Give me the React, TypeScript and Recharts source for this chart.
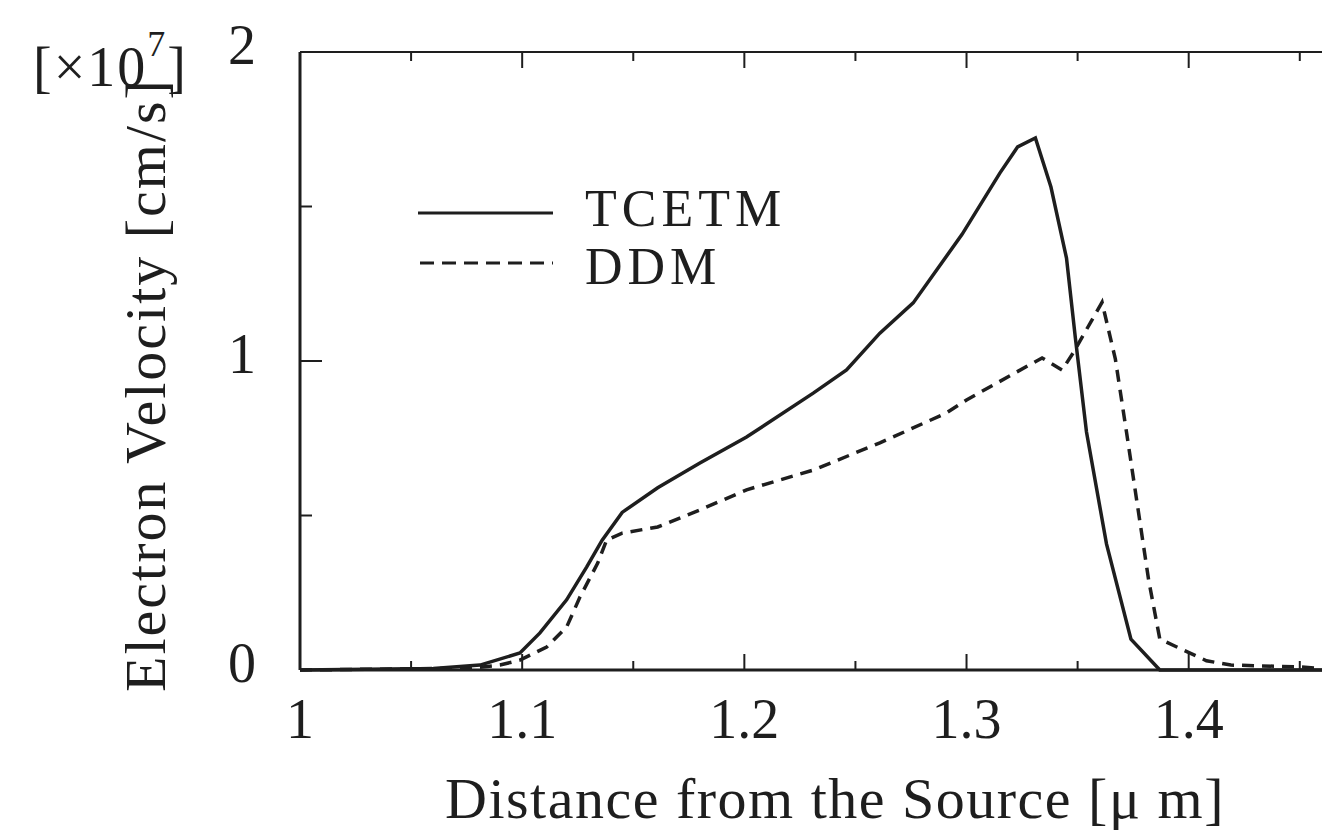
import { LineChart, Line, XAxis, YAxis } from 'recharts'

const tcetmX = [1.0, 1.06, 1.081, 1.099, 1.108, 1.12, 1.129, 1.136, 1.145, 1.161, 1.18, 1.201, 1.231, 1.246, 1.261, 1.276, 1.298, 1.315, 1.323, 1.331, 1.338, 1.345, 1.349, 1.354, 1.363, 1.374, 1.387, 1.46]
const tcetmV = [0, 0.005, 0.016, 0.055, 0.12, 0.227, 0.333, 0.42, 0.51, 0.59, 0.67, 0.754, 0.896, 0.971, 1.09, 1.188, 1.41, 1.608, 1.693, 1.722, 1.563, 1.333, 1.074, 0.77, 0.408, 0.1, 0, 0]

const ddmX = [1.0, 1.077, 1.09, 1.099, 1.111, 1.12, 1.126, 1.134, 1.138, 1.145, 1.161, 1.18, 1.201, 1.231, 1.261, 1.291, 1.3, 1.33, 1.334, 1.343, 1.348, 1.361, 1.367, 1.372, 1.377, 1.382, 1.387, 1.408, 1.419, 1.45, 1.46]
const ddmV = [0, 0.006, 0.016, 0.032, 0.074, 0.139, 0.236, 0.346, 0.42, 0.443, 0.463, 0.518, 0.583, 0.647, 0.735, 0.832, 0.874, 0.994, 1.01, 0.971, 1.026, 1.19, 1.006, 0.77, 0.53, 0.29, 0.1, 0.03, 0.016, 0.01, 0.005]

const xTicks = [1, 1.05, 1.1, 1.15, 1.2, 1.25, 1.3, 1.35, 1.4, 1.45]
const xLabels = ['1', '1.1', '1.2', '1.3', '1.4']
const yTicks = [0, 0.5, 1, 1.5, 2]
const yLabels = ['0', '1', '2']

const tcetm = tcetmX.map((x, i) => ({ x, v: tcetmV[i] }))
const ddm = ddmX.map((x, i) => ({ x, v: ddmV[i] }))

const ink = '#1e1e1e'
const serif = '"Liberation Serif", "DejaVu Serif", serif'

const fmt = (v: number) => (Math.abs(v - 1) < 1e-9 ? '1' : v.toFixed(1))
const isMajor = (v: number) => Math.abs(Math.round(v * 10) - v * 10) < 1e-6

function BottomTick(props: any) {
  const { x, y, payload } = props
  const major = isMajor(payload.value)
  const label = fmt(payload.value)
  return (
    <g>
      <line x1={x} y1={y} x2={x} y2={y - (major ? 16 : 9)} stroke={ink} strokeWidth={2} />
      {major && xLabels.includes(label) && (
        <text x={x} y={y + 68} textAnchor="middle" fontFamily={serif} fontSize={56} fill={ink}>
          {label}
        </text>
      )}
    </g>
  )
}

function TopTick(props: any) {
  const { x, y, payload } = props
  const major = isMajor(payload.value)
  return <line x1={x} y1={y} x2={x} y2={y + (major ? 16 : 9)} stroke={ink} strokeWidth={2} />
}

function LeftTick(props: any) {
  const { x, y, payload } = props
  const major = Number.isInteger(payload.value)
  const label = String(payload.value)
  return (
    <g>
      <line x1={x} y1={y} x2={x + (major ? 22 : 12)} y2={y} stroke={ink} strokeWidth={2} />
      {yLabels.includes(label) && (
        <text x={x - 44} y={y + 12} textAnchor="end" fontFamily={serif} fontSize={56} fill={ink}>
          {label}
        </text>
      )}
    </g>
  )
}

export default function App() {
  return (
    <div style={{ position: 'absolute', left: 0, top: 0, width: 1331, height: 831, background: '#fff' }}>
      <LineChart width={1331} height={831} margin={{ top: 0, right: 9, bottom: 0, left: 0 }}>
        <XAxis
          xAxisId="b"
          type="number"
          dataKey="x"
          domain={[1, 1.46]}
          allowDataOverflow
          ticks={xTicks}
          height={161}
          tickSize={0}
          tickMargin={0}
          axisLine={{ stroke: ink, strokeWidth: 3 }}
          tickLine={false}
          tick={<BottomTick />}
        />
        <XAxis
          xAxisId="t"
          orientation="top"
          type="number"
          dataKey="x"
          domain={[1, 1.46]}
          allowDataOverflow
          ticks={xTicks}
          height={52}
          tickSize={0}
          tickMargin={0}
          axisLine={{ stroke: ink, strokeWidth: 2 }}
          tickLine={false}
          tick={<TopTick />}
        />
        <YAxis
          type="number"
          domain={[0, 2]}
          ticks={yTicks}
          width={300}
          tickSize={0}
          tickMargin={0}
          axisLine={{ stroke: ink, strokeWidth: 3 }}
          tickLine={false}
          tick={<LeftTick />}
        />
        <Line xAxisId="b" data={tcetm} dataKey="v" type="linear" stroke={ink} strokeWidth={3.5} dot={false} isAnimationActive={false} />
        <Line xAxisId="b" data={ddm} dataKey="v" type="linear" stroke={ink} strokeWidth={3.5} strokeDasharray="12 8" dot={false} isAnimationActive={false} />
      </LineChart>

      <svg width={1331} height={831} style={{ position: 'absolute', left: 0, top: 0, pointerEvents: 'none' }}>
        <text
          transform="translate(165, 385) rotate(-90)"
          textAnchor="middle"
          fontFamily={serif}
          fontSize={58}
          letterSpacing={2}
          fill={ink}
        >
          Electron Velocity [cm/s]
        </text>
        <text x={33} y={86} fontFamily={serif} fontSize={56} letterSpacing={2} fill={ink}>
          [×10
          <tspan dy={-30} fontSize={36}>7</tspan>
          <tspan dy={30}>]</tspan>
        </text>
        <text x={835} y={818} textAnchor="middle" fontFamily={serif} fontSize={58} letterSpacing={1.5} fill={ink}>
          Distance from the Source [μ m]
        </text>

        <line x1={418} y1={213} x2={553} y2={213} stroke={ink} strokeWidth={3} />
        <text x={585} y={226} fontFamily={serif} fontSize={52} letterSpacing={5} fill={ink}>TCETM</text>
        <line x1={420} y1={263} x2={553} y2={263} stroke={ink} strokeWidth={3} strokeDasharray="14 8" />
        <text x={585} y={284} fontFamily={serif} fontSize={52} letterSpacing={5} fill={ink}>DDM</text>
      </svg>
    </div>
  )
}
